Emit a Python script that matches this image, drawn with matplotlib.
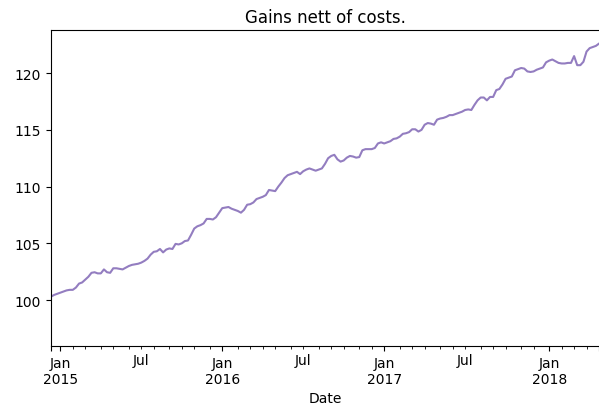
import pandas as pd
import matplotlib
matplotlib.use("Agg")
import matplotlib.pyplot as plt

# weekly series, first week ending 2014-12-14
start_date = "2014-12-14"
gains = [
    100.3, 100.45, 100.55, 100.65, 100.75, 100.85, 100.9, 100.9, 101.1, 101.45,
    101.55, 101.8, 102.05, 102.4, 102.45, 102.35, 102.35, 102.7, 102.45, 102.4,
    102.8, 102.8, 102.75, 102.7, 102.85, 103.0, 103.1, 103.15, 103.2, 103.3,
    103.45, 103.65, 104.0, 104.25, 104.3, 104.5, 104.2, 104.45, 104.55, 104.5,
    104.95, 104.9, 105.0, 105.2, 105.25, 105.75, 106.3, 106.5, 106.6, 106.75,
    107.15, 107.15, 107.1, 107.3, 107.7, 108.1, 108.15, 108.2, 108.05, 107.95,
    107.85, 107.7, 107.95, 108.4, 108.45, 108.6, 108.9, 109.0, 109.1, 109.25,
    109.7, 109.65, 109.6, 110.0, 110.35, 110.75, 111.0, 111.1, 111.2, 111.3,
    111.1, 111.35, 111.5, 111.6, 111.5, 111.4, 111.5, 111.6, 112.0, 112.5,
    112.7, 112.8, 112.4, 112.2, 112.3, 112.55, 112.7, 112.65, 112.55, 112.6,
    113.2, 113.3, 113.3, 113.3, 113.4, 113.8, 113.9, 113.8, 113.9, 114.0,
    114.2, 114.25, 114.4, 114.65, 114.7, 114.8, 115.05, 115.05, 114.85, 115.0,
    115.45, 115.6, 115.55, 115.45, 115.9, 116.0, 116.05, 116.15, 116.3, 116.3,
    116.4, 116.5, 116.6, 116.75, 116.8, 116.75, 117.2, 117.6, 117.85, 117.85,
    117.6, 117.9, 117.9, 118.5, 118.6, 119.0, 119.5, 119.6, 119.7, 120.25,
    120.35, 120.45, 120.4, 120.15, 120.1, 120.15, 120.3, 120.4, 120.5, 120.95,
    121.1, 121.2, 121.05, 120.9, 120.85, 120.85, 120.9, 120.9, 121.5, 120.7,
    120.7, 121.0, 121.9, 122.2, 122.3, 122.4, 122.6,
]

LINE = "#937dc0"

dates = pd.date_range(start_date, periods=len(gains), freq="W-SUN")
series = pd.Series(gains, index=dates, name="gains")
series.index.name = "Date"

fig = plt.figure(figsize=(5.99, 4.10), dpi=100)
ax = fig.add_axes([51 / 599, 63 / 410, 548 / 599, 316 / 410])
series.plot(ax=ax, color=LINE, linewidth=1.5)

ax.set_title("Gains nett of costs.")
ax.set_ylim(95.95, 123.8)
ax.spines["right"].set_visible(False)

fig.savefig("out.png", dpi=100)
